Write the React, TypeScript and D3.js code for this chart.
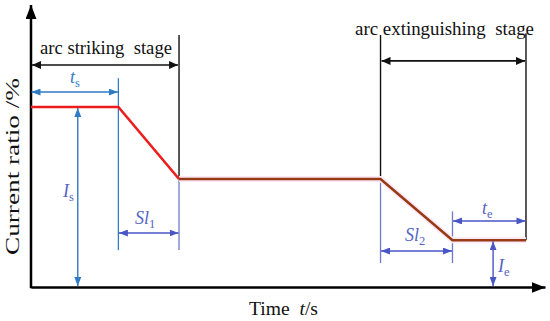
import React, { useEffect, useRef } from 'react';
import * as d3 from 'd3';

// current profile (time in % of window, current ratio in %)
const profileTime = [0, 17, 28.8, 68, 82, 96.3];
const profileCurrent = [100, 100, 60, 60, 26, 26];
const splitIndex = 2; // red part ends at first ramp end

// stage brackets
const stageNames = ['arc striking  stage', 'arc extinguishing  stage'];
const stageStart = [0, 68];
const stageEnd = [28.8, 96.3];
const stageLevel = [123.3, 125.6];

// dimension arrows
const dimNames = ['ts', 'Sl1', 'Sl2', 'te'];
const dimStart = [0, 17, 68, 82];
const dimEnd = [17, 28.8, 82, 96.3];
const dimLevel = [108.3, 30, 20, 36.7];
const vertNames = ['Is', 'Ie'];
const vertTime = [9.1, 89.9];
const vertTop = [100, 26];

const App = () => {
  const ref = useRef<SVGSVGElement>(null);

  useEffect(() => {
    const svg = d3.select(ref.current);
    svg.selectAll('*').remove();

    const width = 550;
    const height = 321;
    svg.attr('width', width).attr('height', height);

    const x = d3.scaleLinear().domain([0, 100]).range([31, 545]);
    const y = d3.scaleLinear().domain([0, 100]).range([287, 107]);

    const font = '"Liberation Serif", "Times New Roman", serif';
    const blue1 = '#2f7bc6';
    const blue2 = '#4a55c6';
    const blueText = '#5565c4';

    const defs = svg.append('defs');
    const marker = (id, color, w, h) => {
      defs.append('marker')
        .attr('id', id)
        .attr('viewBox', `0 0 ${w} ${h}`)
        .attr('refX', w).attr('refY', h / 2)
        .attr('markerWidth', w).attr('markerHeight', h)
        .attr('markerUnits', 'userSpaceOnUse')
        .attr('orient', 'auto-start-reverse')
        .append('path')
        .attr('d', `M0,0L${w},${h / 2}L0,${h}Z`)
        .attr('fill', color);
    };
    marker('ab1', blue1, 9, 7);
    marker('ab2', blue2, 9, 7);
    marker('ak', '#111', 9, 8);
    marker('axk', '#000', 14, 11);

    // axes
    svg.append('g')
      .attr('transform', `translate(0, ${y(0)})`)
      .call(d3.axisBottom(x).tickValues([]).tickSizeOuter(0))
      .select('.domain')
      .attr('stroke-width', 2.5)
      .attr('marker-end', 'url(#axk)');
    svg.append('g')
      .attr('transform', `translate(${x(0)}, 0)`)
      .call(d3.axisLeft(y).tickValues([]).tickSizeOuter(0))
      .select('.domain')
      .attr('stroke-width', 2.5)
      .attr('d', `M0,${y(0) + 1.2}V5`)
      .attr('marker-end', 'url(#axk)');

    // stage boundary lines (black)
    const blackLines = [
      [stageEnd[0], 140, profileCurrent[2]],
      [stageStart[1], 140, profileCurrent[3]],
      [stageEnd[1], 141, profileCurrent[5]],
    ];
    blackLines.forEach(([t, a, b]) => {
      svg.append('line')
        .attr('x1', x(t)).attr('x2', x(t))
        .attr('y1', y(a)).attr('y2', y(b))
        .attr('stroke', '#111').attr('stroke-width', 1.4);
    });

    // blue guide lines
    const blueLines = [
      [17, 116, 20.5],
      [28.8, 60, 20.5],
      [68, 60, 13.3],
      [82, 42, 13.3],
    ];
    blueLines.forEach(([t, a, b], i) => {
      svg.append('line')
        .attr('x1', x(t)).attr('x2', x(t))
        .attr('y1', y(a)).attr('y2', y(b))
        .attr('stroke', i === 0 ? blue1 : '#6f79c9').attr('stroke-width', 1.3);
    });

    // profile line
    const pts = profileTime.map((t, i) => [x(t), y(profileCurrent[i])] as [number, number]);
    const line = d3.line();
    svg.append('path')
      .attr('d', line(pts.slice(splitIndex)))
      .attr('fill', 'none').attr('stroke', '#fde8f6').attr('stroke-width', 6);
    svg.append('path')
      .attr('d', line(pts.slice(0, splitIndex + 1)))
      .attr('fill', 'none').attr('stroke', '#ee1c1c').attr('stroke-width', 2.6);
    svg.append('path')
      .attr('d', line(pts.slice(splitIndex)))
      .attr('fill', 'none').attr('stroke', '#973a14').attr('stroke-width', 2.6);

    // stage brackets
    const stageText = [[40, 54, 132], [355, 35, 179]];
    stageNames.forEach((name, i) => {
      svg.append('line')
        .attr('x1', x(stageStart[i]) + 1).attr('x2', x(stageEnd[i]) - 1)
        .attr('y1', y(stageLevel[i])).attr('y2', y(stageLevel[i]))
        .attr('stroke', '#111').attr('stroke-width', 1.6)
        .attr('marker-start', 'url(#ak)').attr('marker-end', 'url(#ak)');
      svg.append('text')
        .attr('x', stageText[i][0])
        .attr('y', stageText[i][1])
        .attr('textLength', stageText[i][2])
        .attr('lengthAdjust', 'spacingAndGlyphs')
        .style('white-space', 'pre')
        .attr('font-family', font).attr('font-size', 18)
        .attr('fill', '#111')
        .text(name);
    });

    // horizontal dimensions
    dimNames.forEach((n, i) => {
      const c = i === 0 ? blue1 : blue2;
      const m = i === 0 ? 'ab1' : 'ab2';
      svg.append('line')
        .attr('x1', x(dimStart[i]) + 0.5).attr('x2', x(dimEnd[i]) - 0.5)
        .attr('y1', y(dimLevel[i])).attr('y2', y(dimLevel[i]))
        .attr('stroke', c).attr('stroke-width', 1.4)
        .attr('marker-start', `url(#${m})`).attr('marker-end', `url(#${m})`);
    });

    // vertical dimensions
    vertNames.forEach((n, i) => {
      const c = i === 0 ? blue1 : blue2;
      const m = i === 0 ? 'ab1' : 'ab2';
      svg.append('line')
        .attr('x1', x(vertTime[i])).attr('x2', x(vertTime[i]))
        .attr('y1', y(vertTop[i]) + 1).attr('y2', y(0) - 1)
        .attr('stroke', c).attr('stroke-width', 1.4)
        .attr('marker-start', `url(#${m})`).attr('marker-end', `url(#${m})`);
    });

    // symbol labels
    const label = (px, py, main, sub, color) => {
      const t = svg.append('text')
        .attr('x', px).attr('y', py)
        .attr('font-family', font).attr('fill', color);
      t.append('tspan').attr('font-style', 'italic').attr('font-size', 18).text(main);
      t.append('tspan').attr('font-size', 12.5).attr('dy', 4).text(sub);
    };
    label(70, 83, 't', 's', blue1);
    label(63, 197, 'I', 's', blueText);
    label(135, 224, 'Sl', '1', blueText);
    label(405, 241, 'Sl', '2', blueText);
    label(482, 214, 't', 'e', blueText);
    label(498, 272, 'I', 'e', blueText);

    // axis titles
    const xt = svg.append('text')
      .attr('x', 249).attr('y', 315)
      .attr('textLength', 69)
      .attr('lengthAdjust', 'spacingAndGlyphs')
      .style('white-space', 'pre')
      .attr('font-family', font).attr('font-size', 18).attr('fill', '#111');
    xt.append('tspan').text('Time  ');
    xt.append('tspan').attr('font-style', 'italic').text('t');
    xt.append('tspan').text('/s');

    svg.append('text')
      .attr('transform', 'translate(19, 255) rotate(-90)')
      .attr('textLength', 177)
      .attr('lengthAdjust', 'spacingAndGlyphs')
      .style('white-space', 'pre')
      .attr('font-family', font).attr('font-size', 18).attr('fill', '#111')
      .text('Current ratio /%');
  }, []);

  return <svg ref={ref} style={{ position: 'absolute', left: 0, top: 0, background: '#fff' }} />;
};

export default App;
